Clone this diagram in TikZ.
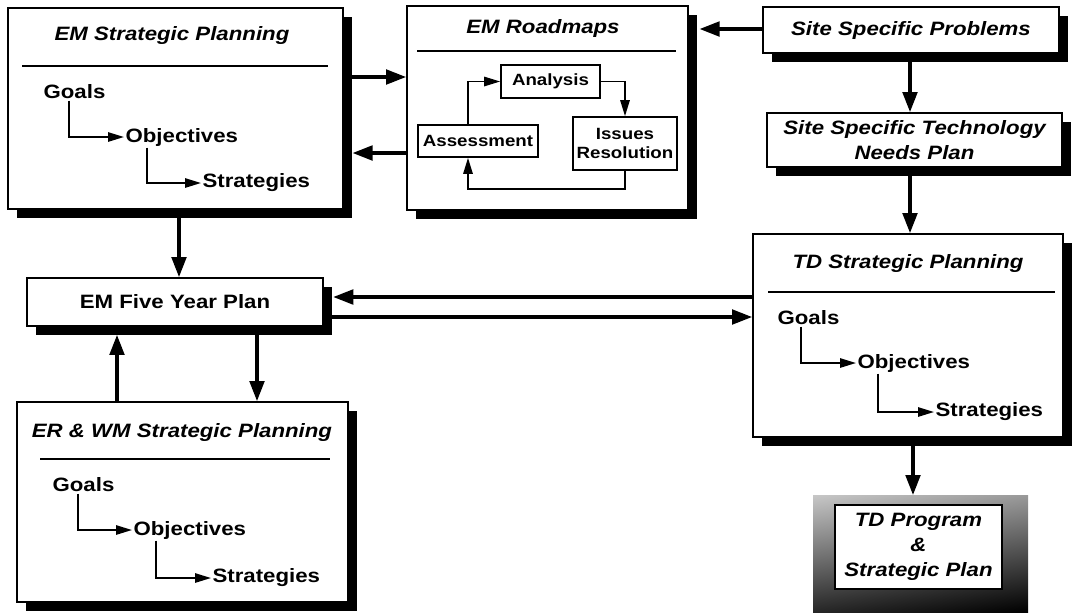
\documentclass[tikz,border=0pt]{standalone}
\usepackage{fontspec}
\setmainfont{Liberation Sans}[FakeStretch=1.15]
\usetikzlibrary{arrows.meta,shadows,shadings}

\begin{document}
\begin{tikzpicture}[x=0.75pt,y=-0.75pt,
  dims/.style 2 args={minimum width=#1*0.75pt, minimum height=#2*0.75pt},
  frame/.style={draw=black, line width=1.4pt, fill=white, inner sep=0pt,
    drop shadow={shadow xshift=6.5pt, shadow yshift=-6.5pt, fill=black, opacity=1}},
  plain/.style={draw=black, line width=1.2pt, fill=white, inner sep=0pt},
  title/.style={font=\bfseries\itshape\fontsize{14.5}{18.5}\selectfont, align=center},
  item/.style={font=\bfseries\fontsize{14.5}{17}\selectfont, inner sep=1pt, anchor=west},
  small/.style={font=\bfseries\fontsize{12.2}{14}\selectfont, align=center},
  flow/.style={line width=2.3pt, -{Triangle[length=15pt,width=11pt]}},
  inflow/.style={line width=1.3pt, -{Triangle[length=12pt,width=7pt]}},
  rule/.style={line width=1.4pt}]
\useasboundingbox (0,0) rectangle (1074,612);

% ---------- boxes ----------
\node[frame, dims={335}{201}] (emsp) at (175.5,108.5) {};
\node[frame, dims={281}{204}] (rm)   at (547.5,108) {};
\node[frame, dims={296}{46}, title] (ssp) at (911,30) {Site Specific Problems};
\node[frame, dims={295}{54}, title] (sstn) at (914.5,140) {Site Specific Technology\\Needs Plan};
\node[frame, dims={310}{203}] (tdsp) at (908,335.5) {};
\node[frame, dims={296}{48}, font=\bfseries\fontsize{14.5}{17}\selectfont] (fyp) at (175,302) {EM Five Year Plan};
\node[frame, dims={331}{200}] (erwm) at (182.5,502) {};

% TD program box with its graded frame
\shade[upper left=black!22, upper right=black!40, lower left=black!85, lower right=black]
  (813,495) rectangle (1028,612);
\coordinate (tdptop) at (913,495);
\node[plain, dims={167}{84}, title] (tdp) at (918.5,547) {TD Program\\\&\\Strategic Plan};

% ---------- EM strategic planning ----------
\node[title] (t1) at (172,35) {EM Strategic Planning};
\draw[rule] (22,66) -- (328,66);
\node[item] (g1) at (42,92) {Goals};
\node[item] (o1) at (124,137) {Objectives};
\node[item] (s1) at (201,183) {Strategies};
\draw[inflow] (g1.south -| 69,0) |- (o1.west);
\draw[inflow] (o1.south -| 147,0) |- (s1.west);

% ---------- EM roadmaps ----------
\node[title] (t2) at (543,28) {EM Roadmaps};
\draw[rule] (417,51) -- (676,51);
\node[plain, dims={99}{33}, small] (ana) at (550.5,81.5) {Analysis};
\node[plain, dims={120}{32}, small] (ass) at (478,141) {Assessment};
\node[plain, dims={104}{53}, small] (iss) at (625,143.5) {Issues\\Resolution};
\draw[inflow] (ass.north -| 468,0) |- (ana.west);
\draw[inflow] (ana.east) -| (iss.north);
\draw[inflow] (iss.south) -- (iss.south |- 0,189) -| (ass.south -| 468,0);

% ---------- TD strategic planning ----------
\node[title] (t3) at (908,263) {TD Strategic Planning};
\draw[rule] (768,292) -- (1055,292);
\node[item] (g3) at (776,318) {Goals};
\node[item] (o3) at (856,363) {Objectives};
\node[item] (s3) at (934,412) {Strategies};
\draw[inflow] (g3.south -| 801,0) |- (o3.west);
\draw[inflow] (o3.south -| 878,0) |- (s3.west);

% ---------- ER & WM strategic planning ----------
\node[title] (t4) at (182,432) {ER \& WM Strategic Planning};
\draw[rule] (40,459) -- (330,459);
\node[item] (g4) at (51,485) {Goals};
\node[item] (o4) at (132,530) {Objectives};
\node[item] (s4) at (211,578) {Strategies};
\draw[inflow] (g4.south -| 78,0) |- (o4.west);
\draw[inflow] (o4.south -| 156,0) |- (s4.west);

% ---------- connectors between boxes ----------
\draw[flow] (emsp.east |- 0,77) -- (rm.west |- 0,77);
\draw[flow, shorten >=6.5pt] (rm.west |- 0,153) -- (emsp.east |- 0,153);
\draw[flow, shorten >=8pt] (ssp.west |- 0,29) -- (rm.east |- 0,29);
\draw[flow] (ssp.south -| 910,0) -- (sstn.north -| 910,0);
\draw[flow] (sstn.south -| 910,0) -- (tdsp.north -| 910,0);
\draw[flow] (emsp.south -| 179,0) -- (fyp.north -| 179,0);
\draw[flow, shorten >=7pt] (tdsp.west |- 0,297) -- (fyp.east |- 0,297);
\draw[flow] (fyp.east |- 0,317) -- (tdsp.west |- 0,317);
\draw[flow, shorten >=6pt] (erwm.north -| 117,0) -- (fyp.south -| 117,0);
\draw[flow] (fyp.south -| 257,0) -- (erwm.north -| 257,0);
\draw[flow] (tdsp.south -| 913,0) -- (tdptop);
\end{tikzpicture}
\end{document}
